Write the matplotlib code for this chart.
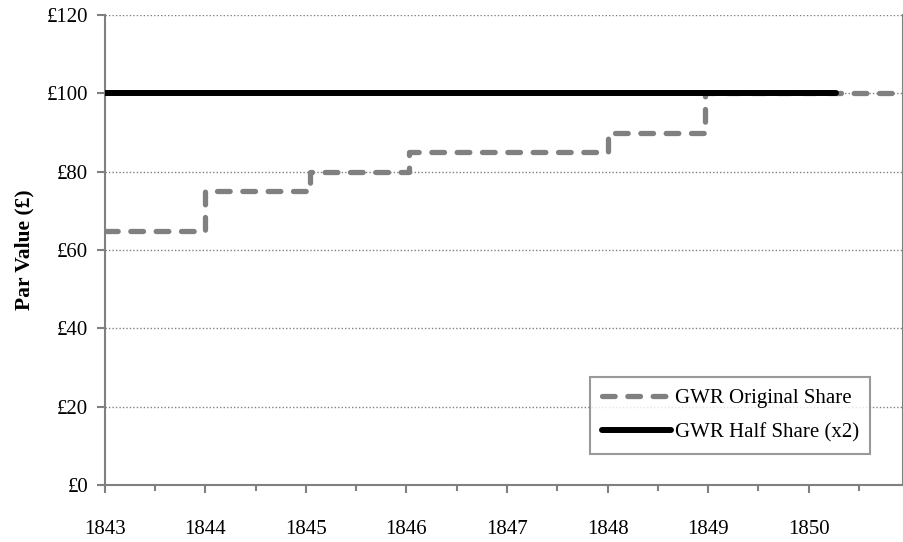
import matplotlib
matplotlib.use("Agg")
import matplotlib.pyplot as plt
from matplotlib.ticker import MultipleLocator, FuncFormatter

plt.rcParams["font.family"] = ["Liberation Serif", "DejaVu Serif"]

# step dates (fractional years) and par values
orig_dates = [1843.0, 1844.0, 1845.04, 1846.03, 1848.0, 1848.97, 1851.0]
orig_values = [65, 75, 80, 85, 90, 100, 100]
half_dates = [1843.0, 1850.27]
half_values = [100, 100]
years = list(range(1843, 1851))
y_ticks = [0, 20, 40, 60, 80, 100, 120]

fig = plt.figure(figsize=(9.04, 5.42), dpi=100)
ax = fig.add_axes([0.116, 0.105, 0.883, 0.867])

grey = "#808080"
ax.step(orig_dates, orig_values, where="post", color=grey, lw=3.8,
        dashes=(2.4, 2.4), dash_capstyle="round", solid_capstyle="round",
        label="GWR Original Share", zorder=3)
ax.plot(half_dates, half_values, color="black", lw=4.3,
        solid_capstyle="round", label="GWR Half Share (x2)", zorder=4)

ax.set_xlim(1843, 1850.94)
ax.set_ylim(0, 120)
ax.set_xticks(years)
ax.xaxis.set_minor_locator(MultipleLocator(0.5))
ax.set_yticks(y_ticks)
ax.yaxis.set_major_formatter(FuncFormatter(lambda v, p: "£%d" % v))

ax.grid(axis="y", color=grey, ls=(0, (1, 1.5)), lw=1.0, zorder=1)
for s in ["left", "bottom", "right"]:
    ax.spines[s].set_color(grey)
    ax.spines[s].set_linewidth(1.5)
ax.spines["top"].set_visible(False)

ax.tick_params(axis="x", which="major", direction="out", length=6, width=1.5,
               color=grey, labelsize=15, pad=19)
ax.tick_params(axis="x", which="minor", direction="out", length=4, width=1.5,
               color=grey)
ax.tick_params(axis="y", direction="out", length=6, width=1.5, color=grey,
               labelsize=15, pad=6)

ax.set_ylabel("Par Value (£)", fontsize=15.5, fontweight="bold", labelpad=9)

leg = ax.legend(loc="lower right", bbox_to_anchor=(0.959, 0.066),
                borderaxespad=0, fancybox=False, fontsize=15,
                handlelength=3.3, handletextpad=0.2, borderpad=0.55,
                labelspacing=0.7)
leg.get_frame().set_edgecolor(grey)
leg.get_frame().set_linewidth(1.5)

fig.savefig("out.png", dpi=100)
